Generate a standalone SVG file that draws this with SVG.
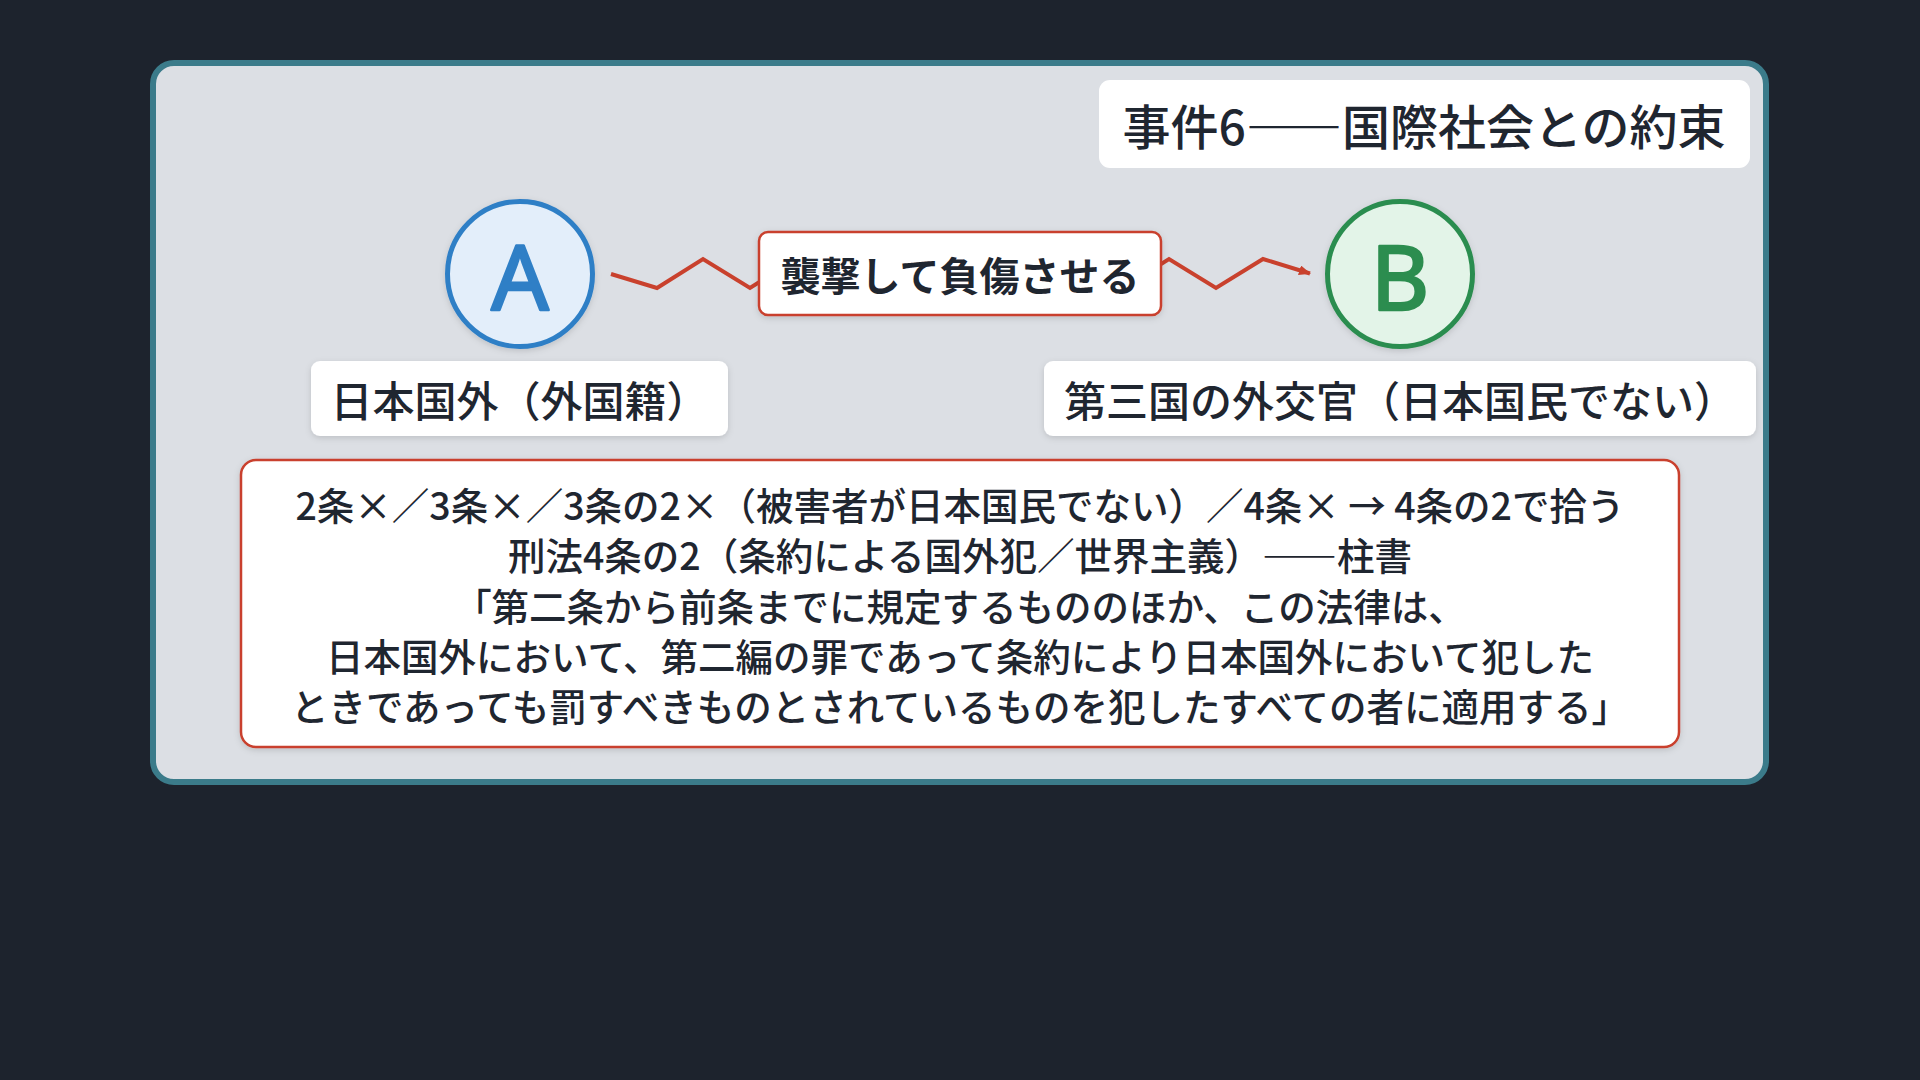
<svg xmlns="http://www.w3.org/2000/svg" width="1920" height="1080" viewBox="0 0 1920 1080">
  <defs>
    <style>
      .jp { font-family: "Noto Sans CJK JP", "Noto Sans", sans-serif; fill: #1f2630; }
      .fw { font-variant-east-asian: full-width; font-feature-settings: "fwid" 1; }
      .card { fill: #ffffff; }
      .redbox { fill: #ffffff; stroke: #c9412d; stroke-width: 2.5; }
      .zig { fill: none; stroke: #c9412d; stroke-width: 4; stroke-linejoin: miter; }
      .letter { font-family: "Noto Sans", "DejaVu Sans", sans-serif; font-weight: 400; stroke-width: 2.5; stroke-linejoin: round; }
    </style>
    <filter id="shadow" x="-10%" y="-20%" width="120%" height="150%">
      <feDropShadow dx="0" dy="2" stdDeviation="3" flood-color="#000000" flood-opacity="0.14"/>
    </filter>
    <marker id="arrow" viewBox="0 0 12 10" refX="11" refY="5" markerWidth="12" markerHeight="10" markerUnits="userSpaceOnUse" orient="auto">
      <path d="M0,0 L12,5 L0,10 Z" fill="#c9412d"/>
    </marker>
  </defs>

  <rect x="0" y="0" width="1920" height="1080" fill="#1d232d"/>

  <g id="panel">
    <rect x="153" y="63" width="1613" height="719" rx="21" ry="21" fill="#dcdfe4" stroke="#3b7b8a" stroke-width="6"/>
  </g>

  <g id="title">
    <rect x="1099" y="80" width="651" height="88" rx="11" ry="11" class="card"/>
    <text x="1424" y="124" class="jp" font-size="48" font-weight="500" text-anchor="middle" dominant-baseline="central">事件6<tspan class="fw">——</tspan>国際社会との約束</text>
  </g>

  <g id="connectors">
    <path class="zig" marker-end="url(#arrow)" d="M611,274 L657,288 L703,259 L750,288 L796,259 L843,288 L890,259 L936,288 L983,259 L1029,288 L1076,259 L1123,288 L1169,259 L1216,288 L1263,259 L1310,273.5"/>
  </g>

  <g id="node-a">
    <circle cx="520" cy="274" r="72.5" fill="#e3eefa" stroke="#2f7fc6" stroke-width="5" filter="url(#shadow)"/>
    <text x="520" y="275" class="letter" font-size="90" fill="#2f7fc6" stroke="#2f7fc6" text-anchor="middle" dominant-baseline="central">A</text>
  </g>

  <g id="node-b">
    <circle cx="1400" cy="274" r="72.5" fill="#e3f4e8" stroke="#2c8d4f" stroke-width="5" filter="url(#shadow)"/>
    <text x="1400" y="275" class="letter" font-size="90" fill="#2c8d4f" stroke="#2c8d4f" text-anchor="middle" dominant-baseline="central">B</text>
  </g>

  <g id="edge-label">
    <rect x="759" y="232" width="402" height="83" rx="9" ry="9" class="redbox" filter="url(#shadow)"/>
    <text x="960" y="274" class="jp" font-size="40" font-weight="700" text-anchor="middle" dominant-baseline="central">襲撃して負傷させる</text>
  </g>

  <g id="label-a">
    <rect x="311" y="361" width="417" height="75" rx="9" ry="9" class="card" filter="url(#shadow)"/>
    <text x="519.5" y="398.5" class="jp" font-size="42" font-weight="500" text-anchor="middle" dominant-baseline="central">日本国外（外国籍）</text>
  </g>

  <g id="label-b">
    <rect x="1044" y="361" width="712" height="75" rx="9" ry="9" class="card" filter="url(#shadow)"/>
    <text x="1400" y="398.5" class="jp" font-size="42" font-weight="500" text-anchor="middle" dominant-baseline="central">第三国の外交官（日本国民でない）</text>
  </g>

  <g id="note">
    <rect x="241" y="460" width="1438" height="287" rx="15" ry="15" class="redbox" filter="url(#shadow)"/>
    <g class="jp" font-size="37.5" font-weight="500" text-anchor="middle" dominant-baseline="central">
      <text x="960" y="503">2条×／3条×／3条の2×（被害者が日本国民でない）／4条× → 4条の2で拾う</text>
      <text x="960" y="553.5">刑法4条の2（条約による国外犯／世界主義）<tspan class="fw">——</tspan>柱書</text>
      <text x="960" y="604">「第二条から前条までに規定するもののほか、この法律は、</text>
      <text x="960" y="654">日本国外において、第二編の罪であって条約により日本国外において犯した</text>
      <text x="960" y="704">ときであっても罰すべきものとされているものを犯したすべての者に適用する」</text>
    </g>
  </g>
</svg>
